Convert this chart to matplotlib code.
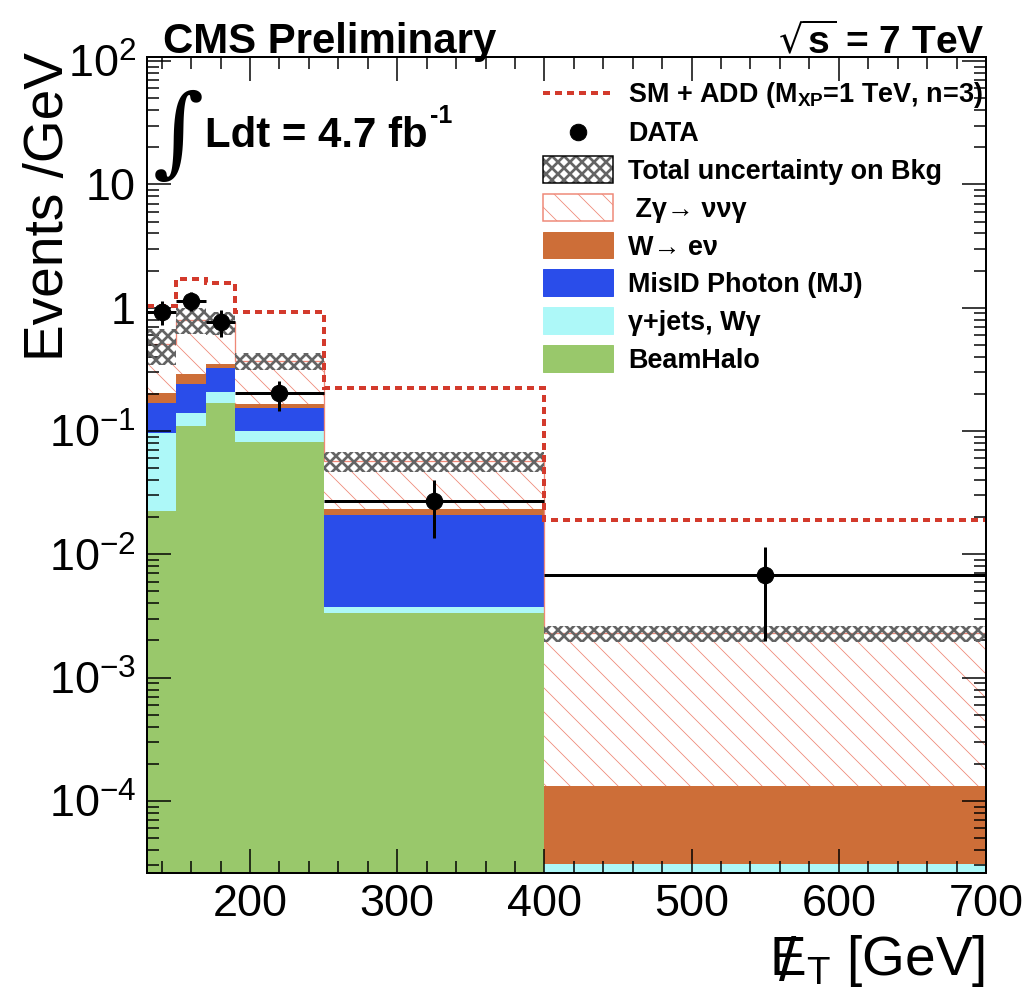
import numpy as np
import matplotlib
matplotlib.use("Agg")
import matplotlib.pyplot as plt
from matplotlib.patches import Rectangle
from matplotlib.lines import Line2D
from matplotlib.font_manager import FontProperties
from matplotlib.ticker import (FixedLocator, MultipleLocator, LogLocator,
                               FuncFormatter, NullFormatter)

# ---------------- data (events / GeV) ----------------
met_bin_edges = [130, 150, 170, 190, 250, 400, 700]

beam_halo    = [0.0224, 0.110, 0.169, 0.0819, 0.00331, 0.0]
gamma_jets   = [0.0736, 0.029, 0.040, 0.0175, 0.00045, 3.06e-5]
misid_photon = [0.073, 0.102, 0.114, 0.0546, 0.0172, 0.0]
w_to_enu     = [0.033, 0.048, 0.028, 0.012, 0.0025, 1.02e-4]
zgamma_nunu  = [0.308, 0.511, 0.414, 0.204, 0.0335, 0.00215]

bkg_unc_low  = [0.344, 0.61, 0.60, 0.31, 0.0467, 0.00194]
bkg_unc_high = [0.675, 1.00, 0.93, 0.428, 0.0679, 0.00261]

data_values   = [0.93, 1.125, 0.765, 0.203, 0.027, 0.00675]
data_err_low  = [0.21, 0.19, 0.19, 0.057, 0.0134, 0.00478]
data_err_high = [0.20, 0.22, 0.185, 0.053, 0.0132, 0.00475]

sm_add_signal = [1.04, 1.70, 1.60, 0.92, 0.224, 0.019]

x_major_ticks = [200, 300, 400, 500, 600, 700]
y_major_ticks = [1e-4, 1e-3, 1e-2, 1e-1, 1, 10, 100]

legend_labels = [
    r"SM + ADD (M$_{\mathregular{XP}}$=1 TeV, n=3)",
    "DATA",
    "Total uncertainty on Bkg",
    " Z\u03b3\u2192 \u03bd\u03bd\u03b3",
    "W\u2192 e\u03bd",
    "MisID Photon (MJ)",
    "\u03b3+jets, W\u03b3",
    "BeamHalo",
]

# ---------------- style ----------------
C_HALO = "#99c86b"
C_GJET = "#adf8f8"
C_MISID = "#2a4dea"
C_WENU = "#cd6e38"
C_ZG = "#ef8877"
C_UNC = "#646464"
C_ADD = "#d33a2c"

W_PX, H_PX = 1031, 996
DPI = 72
plt.rcParams["font.family"] = ["Liberation Sans", "DejaVu Sans"]
plt.rcParams["mathtext.fontset"] = "dejavusans"

UNC_HATCH_LW = 2.7
ZG_HATCH_LW = 0.8


def fx(px):
    return px / W_PX


def fy(py):
    return 1.0 - py / H_PX


def set_hatch_lw(artist, w):
    if hasattr(artist, "set_hatch_linewidth"):
        artist.set_hatch_linewidth(w)


fig = plt.figure(figsize=(W_PX / DPI, H_PX / DPI), dpi=DPI)
ax = fig.add_axes([fx(147), fy(873), fx(986) - fx(147), fy(57) - fy(873)])
ax.set_yscale("log")
ax.set_xlim(met_bin_edges[0], met_bin_edges[-1])
ax.set_ylim(2.6e-5, 108)

edges = np.array(met_bin_edges, dtype=float)

# stacked backgrounds, bottom to top
base = np.zeros(len(beam_halo))
for vals, col in [(beam_halo, C_HALO), (gamma_jets, C_GJET),
                  (misid_photon, C_MISID), (w_to_enu, C_WENU)]:
    top = base + np.array(vals)
    ax.stairs(top, edges, baseline=base, fill=True, color=col, lw=0, zorder=2)
    base = top

total_bkg = base + np.array(zgamma_nunu)
plt.rcParams["hatch.linewidth"] = ZG_HATCH_LW
zg = ax.stairs(total_bkg, edges, baseline=base, fill=True, facecolor="none",
               edgecolor=C_ZG, hatch="\\", lw=0, zorder=2)
set_hatch_lw(zg, ZG_HATCH_LW)
ax.stairs(total_bkg, edges, baseline=None, color=C_ZG, lw=1.3, zorder=2.1)

# background uncertainty band
plt.rcParams["hatch.linewidth"] = UNC_HATCH_LW
band = ax.stairs(bkg_unc_high, edges, baseline=bkg_unc_low, fill=True,
                 facecolor="none", edgecolor=C_UNC, hatch="xx", lw=0, zorder=3)
set_hatch_lw(band, UNC_HATCH_LW)

# ADD signal on top of SM
ax.stairs(sm_add_signal, edges, baseline=None, color=C_ADD, lw=4,
          linestyle=(0, (1.75, 1.25)), zorder=4)

# data
centers = 0.5 * (edges[:-1] + edges[1:])
half_w = 0.5 * np.diff(edges)
ax.errorbar(centers, data_values, yerr=[data_err_low, data_err_high], xerr=half_w,
            fmt="o", color="black", ms=16.5, elinewidth=3, capsize=0, zorder=5)

# axes cosmetics
for sp in ax.spines.values():
    sp.set_linewidth(2)
    sp.set_zorder(6)
ax.xaxis.set_major_locator(FixedLocator(x_major_ticks))
ax.xaxis.set_minor_locator(MultipleLocator(20))
ax.xaxis.set_minor_formatter(NullFormatter())
ax.yaxis.set_major_locator(FixedLocator(y_major_ticks))
ax.yaxis.set_minor_locator(LogLocator(base=10, subs=np.arange(2, 10), numticks=20))
ax.yaxis.set_minor_formatter(NullFormatter())


def yfmt(v, pos):
    e = int(round(np.log10(v)))
    if e == 0:
        return "1"
    if e == 1:
        return "10"
    return r"$\mathregular{10^{%d}}$" % e


ax.yaxis.set_major_formatter(FuncFormatter(yfmt))
ax.tick_params(which="both", direction="in", top=True, right=True, width=1.5,
               colors="black", zorder=7)
ax.tick_params(which="major", length=24, labelsize=45, pad=11)
ax.tick_params(which="minor", length=12)
ax.set_axisbelow(False)

# ---------------- legend ----------------
rows = [92.7, 131.7, 169.3, 207.3, 245.0, 282.7, 320.7, 358.3]
hx0, hx1, hh = 543, 613, 26.7
tx = 628
LEG_FS = 27

for lab, yc in zip(legend_labels, rows):
    fig.text(fx(tx), fy(yc + 9.5), lab, fontsize=LEG_FS, fontweight="bold",
             ha="left", va="baseline")

fig.add_artist(Line2D([fx(hx0), fx(hx1)], [fy(rows[0]), fy(rows[0])],
                      transform=fig.transFigure, color=C_ADD, lw=4,
                      linestyle=(0, (1.75, 1.25))))
fig.add_artist(Line2D([fx(578)], [fy(rows[1])], transform=fig.transFigure,
                      marker="o", ms=16.5, color="black", lw=0))


def leg_box(yc, **kw):
    r = Rectangle((fx(hx0), fy(yc + hh / 2)), fx(hx1) - fx(hx0), hh / H_PX,
                  transform=fig.transFigure, **kw)
    fig.add_artist(r)
    return r


plt.rcParams["hatch.linewidth"] = UNC_HATCH_LW
b = leg_box(rows[2], facecolor="white", edgecolor=C_UNC, hatch="xx", lw=0)
set_hatch_lw(b, UNC_HATCH_LW)
leg_box(rows[2], facecolor="none", edgecolor="black", lw=1.5)
plt.rcParams["hatch.linewidth"] = ZG_HATCH_LW
b = leg_box(rows[3], facecolor="white", edgecolor=C_ZG, hatch="\\", lw=1.5)
set_hatch_lw(b, ZG_HATCH_LW)
leg_box(rows[4], facecolor=C_WENU, edgecolor=C_WENU, lw=1)
leg_box(rows[5], facecolor=C_MISID, edgecolor=C_MISID, lw=1)
leg_box(rows[6], facecolor=C_GJET, edgecolor=C_GJET, lw=1)
leg_box(rows[7], facecolor=C_HALO, edgecolor=C_HALO, lw=1)

# ---------------- titles and labels ----------------
fig.text(fx(163), fy(53), "CMS Preliminary", fontsize=42, fontweight="bold",
         ha="left", va="baseline")
fig.text(fx(985), fy(53), r"$\sqrt{\mathregular{s}}$ = 7 TeV", fontsize=39,
         fontweight="bold", ha="right", va="baseline")

renderer = fig.canvas.get_renderer()

fig.text(fx(178), fy(137), "\u222b", fontsize=98, family="DejaVu Serif",
         ha="center", va="center")
lumi = fig.text(fx(205), fy(147), "Ldt = 4.7 fb", fontsize=42, fontweight="bold",
                ha="left", va="baseline")
lb = lumi.get_window_extent(renderer)
fig.text((lb.x1 + 2) / W_PX, fy(123), "-1", fontsize=25, fontweight="bold",
         ha="left", va="baseline")

fig.text(fx(49), fy(52), "Events /GeV", fontsize=55, rotation=90,
         ha="center", va="top")

XL_FS = 55
xl = fig.text(fx(985), fy(975), r"E$_{\mathregular{T}}$ [GeV]", fontsize=XL_FS,
              ha="right", va="baseline")
xb = xl.get_window_extent(renderer)
e_w, _, _ = renderer.get_text_width_height_descent(
    "E", FontProperties(family=["Liberation Sans"], size=XL_FS), ismath=False)
fig.text((xb.x0 + e_w * 0.5) / W_PX, fy(980), "/", fontsize=62,
         ha="center", va="baseline")

fig.savefig("out.png", dpi=DPI)
